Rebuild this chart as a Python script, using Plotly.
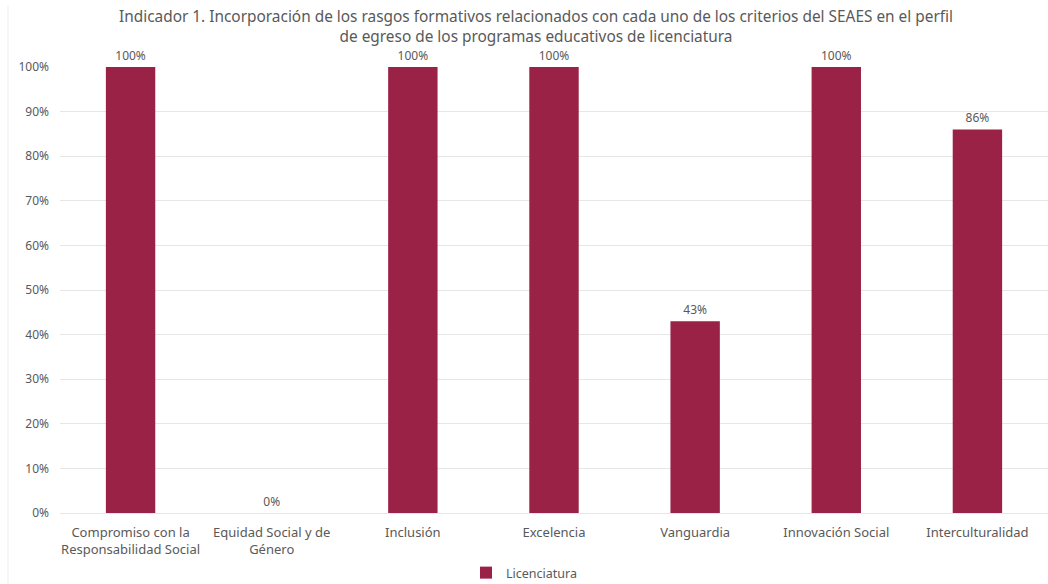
import plotly.graph_objects as go

categories = [
    "Compromiso con la<br>Responsabilidad Social",
    "Equidad Social y de<br>Género",
    "Inclusión",
    "Excelencia",
    "Vanguardia",
    "Innovación Social",
    "Interculturalidad",
]
licenciatura = [1.00, 0.00, 1.00, 1.00, 0.43, 1.00, 0.86]
y_ticks = [i / 10 for i in range(11)]
y_tick_labels = [f"{i * 10}%" for i in range(11)]
title_text = ("Indicador 1. Incorporación de los rasgos formativos relacionados con cada uno "
              "de los criterios del SEAES en el perfil<br>de egreso de los programas educativos "
              "de licenciatura")

BAR = "#9B2247"
TEXT = "#595959"
GRID = "#E6E6E6"
FONT = "Noto Sans"

W, H = 1048, 584
L, R, T, B = 60, 0, 67, 71
PW, PH = W - L - R, H - T - B


def px_x(x):
    return (x - L) / PW


def px_y(y):
    return (H - B - y) / PH


fig = go.Figure()
fig.add_trace(go.Bar(
    x=categories,
    y=licenciatura,
    name="Licenciatura",
    marker=dict(color=BAR, line=dict(width=0)),
    width=0.35,
    text=[f"{v:.0%}" for v in licenciatura],
    textposition="outside",
    cliponaxis=False,
    textfont=dict(family=FONT, size=12, color=TEXT),
))

fig.add_annotation(
    text=title_text,
    xref="paper", yref="paper",
    x=px_x(536), y=px_y(4),
    xanchor="center", yanchor="top",
    showarrow=False, align="center",
    font=dict(family=FONT, size=15.4, color=TEXT),
)

# faint frame line along the left edge
fig.add_shape(
    type="line", xref="paper", yref="paper",
    x0=px_x(8), x1=px_x(8), y0=px_y(584), y1=px_y(5),
    line=dict(color="#EDEDED", width=1),
)

fig.update_layout(
    width=W, height=H,
    margin=dict(l=L, r=R, t=T, b=B, autoexpand=False),
    paper_bgcolor="white",
    plot_bgcolor="white",
    font=dict(family=FONT, size=12, color=TEXT),
    showlegend=True,
    legend=dict(
        orientation="h",
        x=px_x(466), xanchor="left",
        y=px_y(573), yanchor="middle",
        itemwidth=30,
        font=dict(family=FONT, size=12.5, color=TEXT),
    ),
)
fig.update_yaxes(
    range=[0, 1],
    tickvals=y_ticks,
    ticktext=y_tick_labels,
    showgrid=True, gridcolor=GRID, gridwidth=1,
    zeroline=False, showline=False,
    ticks="", ticklen=0,
    ticklabelstandoff=10,
    automargin=False,
    tickfont=dict(family=FONT, size=12, color=TEXT),
)
fig.update_xaxes(
    showgrid=False,
    showline=True, linecolor=GRID, linewidth=1,
    ticks="",
    ticklabelstandoff=7,
    automargin=False,
    tickfont=dict(family=FONT, size=13, color=TEXT),
)

fig.write_html("out.html")
